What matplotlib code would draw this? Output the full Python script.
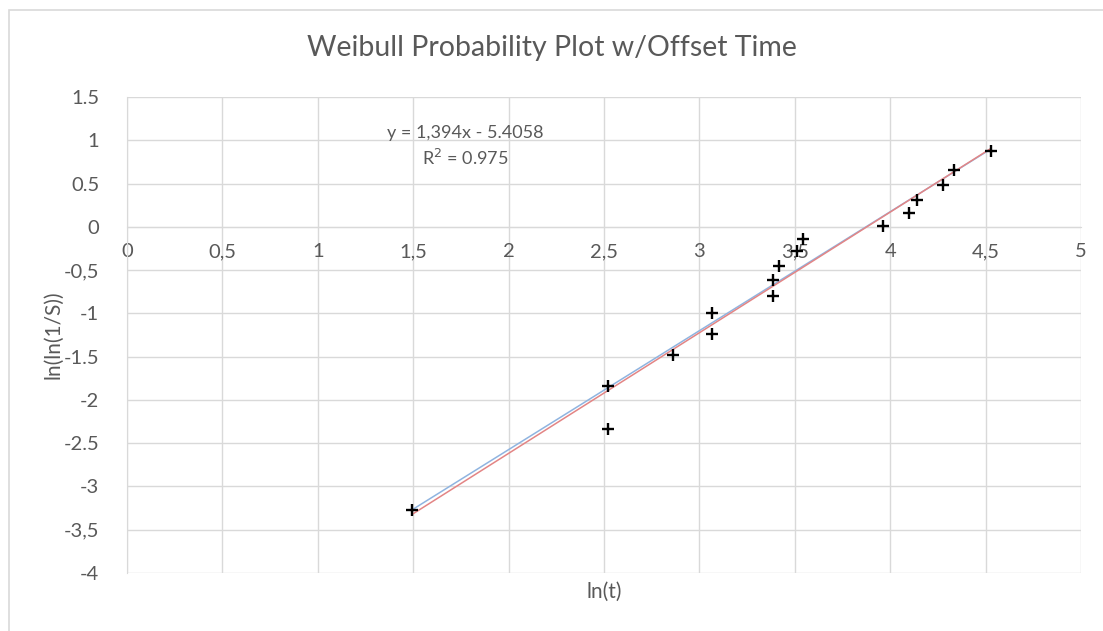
import matplotlib
matplotlib.use('Agg')
import matplotlib.pyplot as plt
from matplotlib.patches import Rectangle

# ln(t) and ln(ln(1/S))
ln_t = [1.494, 2.519, 2.519, 2.860, 3.068, 3.068, 3.384, 3.384,
        3.417, 3.509, 3.541, 3.961, 4.100, 4.139, 4.275, 4.336, 4.528]
ln_ln = [-3.27, -1.84, -2.34, -1.485, -0.996, -1.235, -0.61, -0.803,
         -0.448, -0.279, -0.135, 0.01, 0.154, 0.308, 0.481, 0.655, 0.875]

# trendline (red) from the shown equation, second line (blue)
slope, intercept = 1.394, -5.4058
fit_x = [1.494, 4.528]
fit_red = [slope * x + intercept for x in fit_x]
fit_blue = [-3.27, 0.90]

eq_text = 'y = 1,394x - 5.4058'
r2_text = 'R$^2$ = 0.975'

x_ticks = [0, 0.5, 1, 1.5, 2, 2.5, 3, 3.5, 4, 4.5, 5]
x_labels = ['0', '0,5', '1', '1,5', '2', '2,5', '3', '3,5', '4', '4,5', '5']
y_ticks = [1.5, 1, 0.5, 0, -0.5, -1, -1.5, -2, -2.5, -3, -3.5, -4]
y_labels = ['1.5', '1', '0.5', '0', '-0,5', '-1', '-1.5', '-2', '-2.5', '-3', '-3,5', '-4']

txt = '#595959'
grid = '#d9d9d9'
plt.rcParams['font.family'] = ['Lato', 'DejaVu Sans']

fig = plt.figure(figsize=(11.03, 6.31), dpi=100)
ax = fig.add_axes([127/1103, 1 - 573/631, (1081 - 127)/1103, (573 - 97)/631])

# outer chart border
fig.patches.append(Rectangle((9/1103, -0.1), 1.2, 1 - 10/631 + 0.1, transform=fig.transFigure,
                             fill=False, edgecolor='#d9d9d9', linewidth=1.2))

ax.plot(fit_x, fit_blue, color='#8fb4e0', linewidth=1.1, zorder=3)
ax.plot(fit_x, fit_red, color='#e38585', linewidth=1.1, zorder=3)
ax.scatter(ln_t, ln_ln, marker='+', s=75, color='black', linewidths=1.7, zorder=4)

ax.set_xlim(0, 5)
ax.set_ylim(-4, 1.5)
ax.set_xticks(x_ticks)
ax.set_xticklabels(x_labels)
ax.set_yticks(y_ticks)
ax.set_yticklabels(y_labels)
ax.grid(True, color=grid, linewidth=1)
ax.set_axisbelow(True)

for s in ['top', 'right']:
    ax.spines[s].set_visible(False)
ax.spines['left'].set_color(grid)
ax.spines['bottom'].set_color(grid)
ax.spines['bottom'].set_position(('data', 0))
ax.spines['bottom'].set_zorder(1)
ax.spines['left'].set_zorder(1)
ax.tick_params(length=0, labelsize=14.5, labelcolor=txt)
ax.tick_params(axis='x', pad=12)
ax.tick_params(axis='y', pad=20)

fig.text(0.5 * (305 + 798) / 1103, 1 - 48/631, 'Weibull Probability Plot w/Offset Time',
         ha='center', va='center', fontsize=20.5, color=txt)
fig.text(604/1103, 1 - 592/631, 'ln(t)', ha='center', va='center', fontsize=15, color=txt)
fig.text(53/1103, 1 - 335/631, 'ln(ln(1/S))', ha='center', va='center', rotation=90,
         fontsize=15, color=txt)

ax.text(1.771, 1.084, eq_text, ha='center', va='center', fontsize=13, color=txt)
ax.text(1.771, 0.795, r2_text, ha='center', va='center', fontsize=13, color=txt)

fig.savefig('out.png', dpi=100)
